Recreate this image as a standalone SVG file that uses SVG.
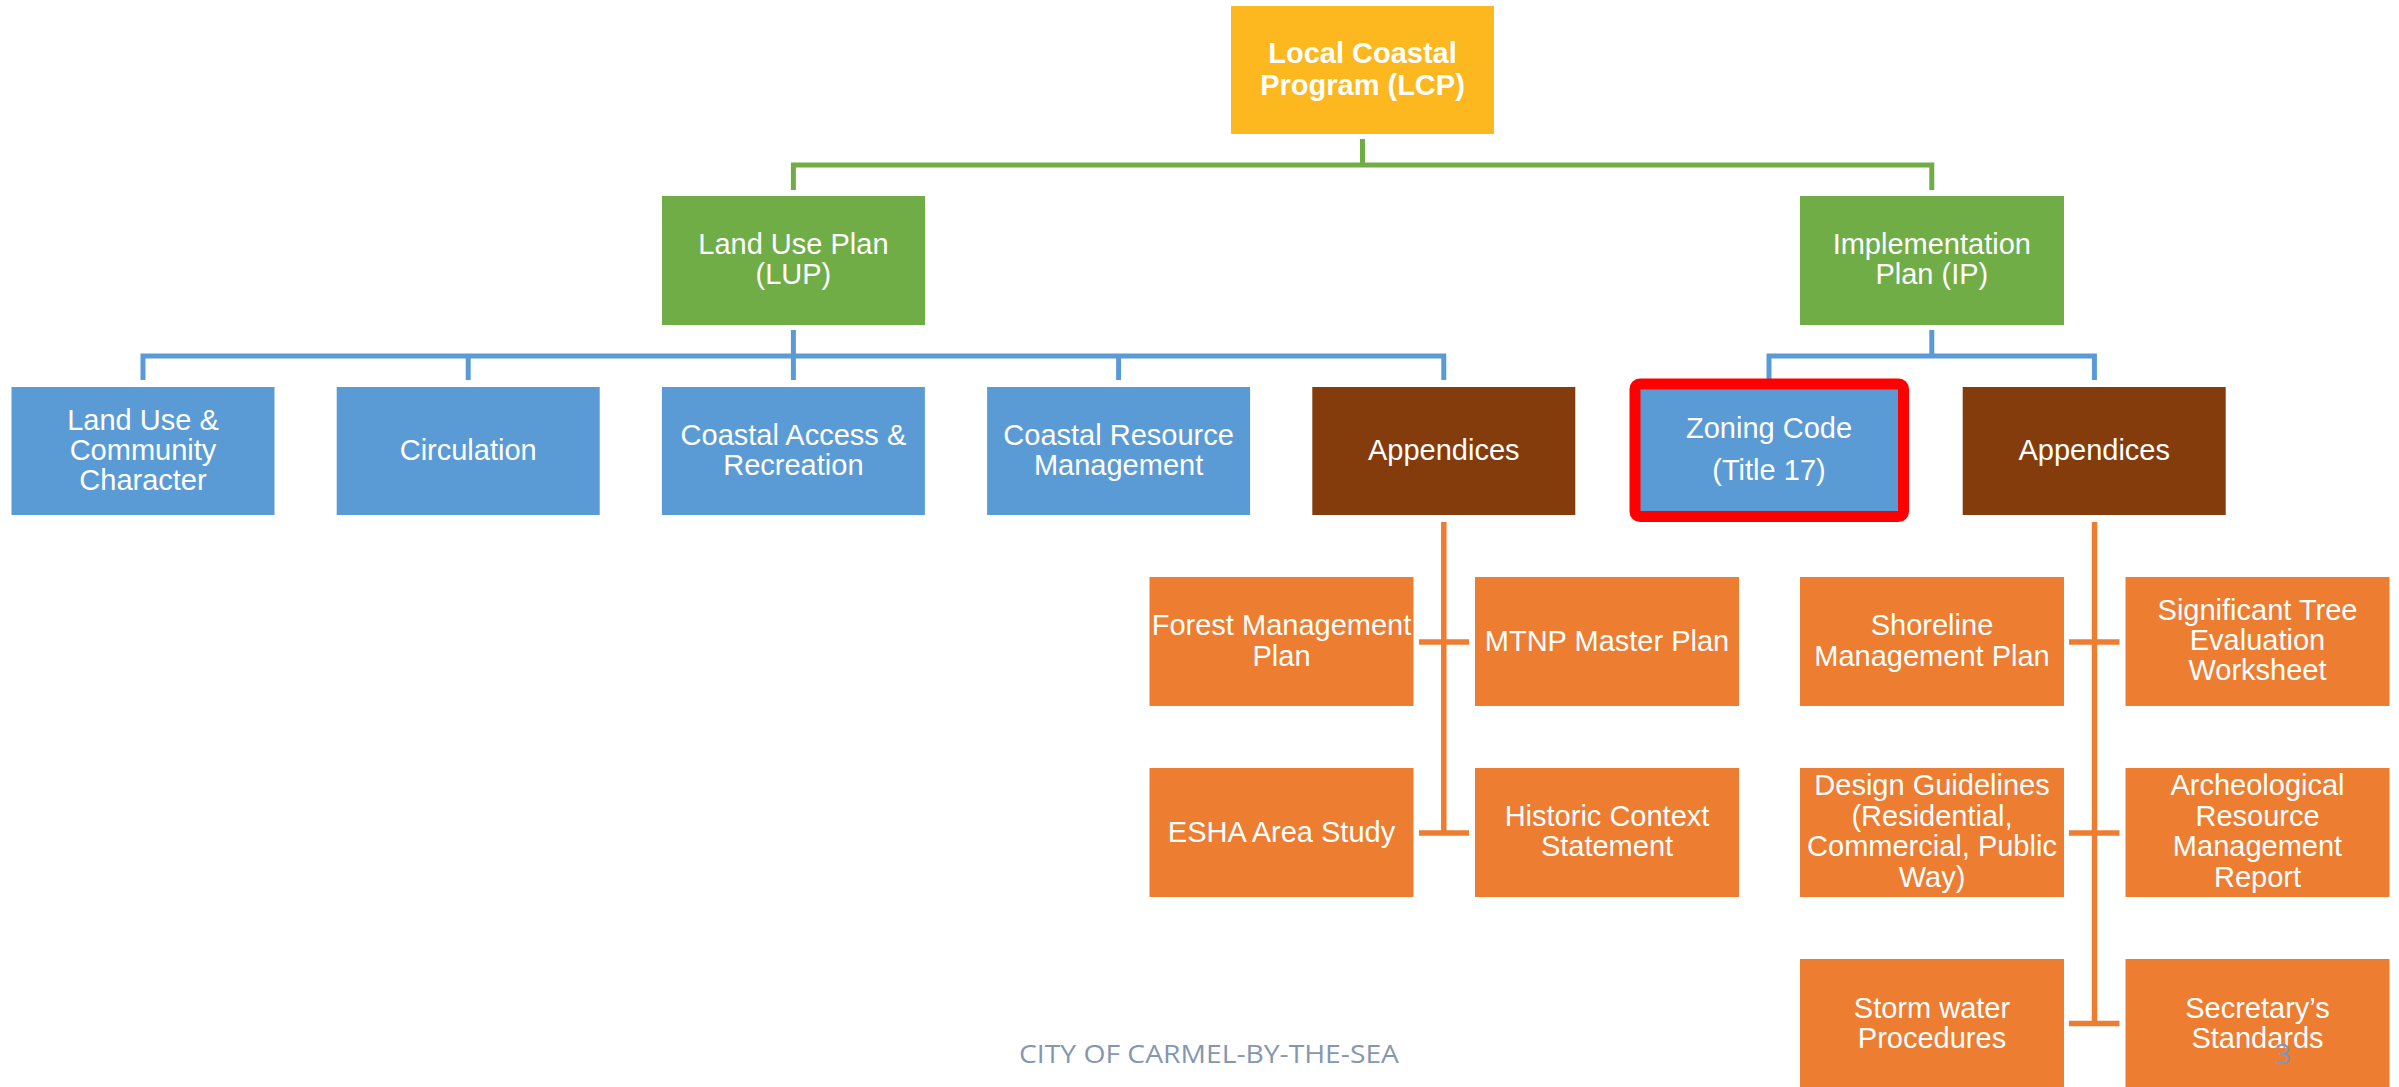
<svg xmlns="http://www.w3.org/2000/svg" width="2399" height="1087" viewBox="0 0 2399 1087">
<style>
  .t { font-family: "Liberation Sans", Arial, sans-serif; font-size: 29px; fill: #ffffff; text-anchor: middle; }
  .b { font-weight: bold; }
  .gold { fill: #FDB81F; }
  .green { fill: #70AD47; }
  .blue { fill: #5B9BD5; }
  .brown { fill: #843C0C; }
  .orange { fill: #ED7D31; }
  .cg { fill: none; stroke: #70AD47; stroke-width: 5; }
  .cb { fill: none; stroke: #5B9BD5; stroke-width: 5; }
  .co { fill: none; stroke: #ED7D31; stroke-width: 5.5; }
  .foot { font-family: "Open Sans", "Liberation Sans", sans-serif; fill: #8497B0; }
</style>
<rect width="2399" height="1087" fill="#ffffff"/>

<g id="connectors">
  <path class="cg" d="M1362.5,139 V165"/>
  <path class="cg" d="M793.4,190 V165 H1931.8 V190"/>
  <path class="cb" d="M793.4,330 V356"/>
  <path class="cb" d="M143,380 V356 H1443.8 V380"/>
  <path class="cb" d="M468.2,356 V380 M793.4,356 V380 M1118.6,356 V380"/>
  <path class="cb" d="M1931.8,330 V356"/>
  <path class="cb" d="M1769,380 V356 H2094.4 V380"/>
  <path class="co" d="M1443.8,522 V833"/>
  <path class="co" d="M1419,642 H1469 M1419,833 H1469"/>
  <path class="co" d="M2094.5,522 V1023.5"/>
  <path class="co" d="M2069,642 H2119.5 M2069,833 H2119.5 M2069,1023.5 H2119.5"/>
</g>

<g id="lcp">
  <rect class="gold" x="1231" y="6" width="263" height="128"/>
  <text class="t b" x="1362.5" y="63">Local Coastal</text>
  <text class="t b" x="1362.5" y="95">Program (LCP)</text>
</g>

<g id="lup">
  <rect class="green" x="662" y="196" width="263" height="129"/>
  <text class="t" x="793.4" y="253.5">Land Use Plan</text>
  <text class="t" x="793.4" y="283.5">(LUP)</text>
</g>

<g id="ip">
  <rect class="green" x="1800" y="196" width="264" height="129"/>
  <text class="t" x="1931.8" y="253.5">Implementation</text>
  <text class="t" x="1931.8" y="283.5">Plan (IP)</text>
</g>

<g id="land-use-community">
  <rect class="blue" x="11.5" y="387" width="263" height="128"/>
  <text class="t" x="143" y="430">Land Use &amp;</text>
  <text class="t" x="143" y="460">Community</text>
  <text class="t" x="143" y="490">Character</text>
</g>

<g id="circulation">
  <rect class="blue" x="336.7" y="387" width="263" height="128"/>
  <text class="t" x="468.2" y="460">Circulation</text>
</g>

<g id="coastal-access">
  <rect class="blue" x="661.9" y="387" width="263" height="128"/>
  <text class="t" x="793.4" y="445">Coastal Access &amp;</text>
  <text class="t" x="793.4" y="475">Recreation</text>
</g>

<g id="coastal-resource">
  <rect class="blue" x="987.1" y="387" width="263" height="128"/>
  <text class="t" x="1118.6" y="445">Coastal Resource</text>
  <text class="t" x="1118.6" y="475">Management</text>
</g>

<g id="lup-appendices">
  <rect class="brown" x="1312.3" y="387" width="263" height="128"/>
  <text class="t" x="1443.8" y="460">Appendices</text>
</g>

<g id="zoning-code">
  <rect class="blue" x="1637.5" y="387" width="263" height="128"/>
  <rect x="1635" y="384" width="268.5" height="132.5" rx="5" fill="none" stroke="#FF0000" stroke-width="11"/>
  <text class="t" x="1769" y="438">Zoning Code</text>
  <text class="t" x="1769" y="480">(Title 17)</text>
</g>

<g id="ip-appendices">
  <rect class="brown" x="1962.7" y="387" width="263" height="128"/>
  <text class="t" x="2094.2" y="460">Appendices</text>
</g>

<g id="forest-management">
  <rect class="orange" x="1149.5" y="577" width="264" height="129"/>
  <text class="t" x="1281.5" y="635" font-size="28">Forest Management</text>
  <text class="t" x="1281.5" y="665.5">Plan</text>
</g>

<g id="mtnp">
  <rect class="orange" x="1475" y="577" width="264" height="129"/>
  <text class="t" x="1607" y="650.5">MTNP Master Plan</text>
</g>

<g id="esha">
  <rect class="orange" x="1149.5" y="768" width="264" height="129"/>
  <text class="t" x="1281.5" y="841.5">ESHA Area Study</text>
</g>

<g id="historic-context">
  <rect class="orange" x="1475" y="768" width="264" height="129"/>
  <text class="t" x="1607" y="826">Historic Context</text>
  <text class="t" x="1607" y="856">Statement</text>
</g>

<g id="shoreline">
  <rect class="orange" x="1800" y="577" width="264" height="129"/>
  <text class="t" x="1932" y="635">Shoreline</text>
  <text class="t" x="1932" y="665.5">Management Plan</text>
</g>

<g id="significant-tree">
  <rect class="orange" x="2125.5" y="577" width="264" height="129"/>
  <text class="t" x="2257.5" y="620">Significant Tree</text>
  <text class="t" x="2257.5" y="650">Evaluation</text>
  <text class="t" x="2257.5" y="680">Worksheet</text>
</g>

<g id="design-guidelines">
  <rect class="orange" x="1800" y="768" width="264" height="129"/>
  <text class="t" x="1932" y="795">Design Guidelines</text>
  <text class="t" x="1932" y="825.5">(Residential,</text>
  <text class="t" x="1932" y="856">Commercial, Public</text>
  <text class="t" x="1932" y="886.5">Way)</text>
</g>

<g id="archeological">
  <rect class="orange" x="2125.5" y="768" width="264" height="129"/>
  <text class="t" x="2257.5" y="795">Archeological</text>
  <text class="t" x="2257.5" y="825.5">Resource</text>
  <text class="t" x="2257.5" y="856">Management</text>
  <text class="t" x="2257.5" y="886.5">Report</text>
</g>

<g id="storm-water">
  <rect class="orange" x="1800" y="959" width="264" height="129"/>
  <text class="t" x="1932" y="1017.5">Storm water</text>
  <text class="t" x="1932" y="1047.5">Procedures</text>
</g>

<g id="secretarys-standards">
  <rect class="orange" x="2125.5" y="959" width="264" height="129"/>
  <text class="t" x="2257.5" y="1017.5">Secretary’s</text>
  <text class="t" x="2257.5" y="1047.5">Standards</text>
</g>

<text class="foot" x="1019" y="1063" font-size="26" textLength="380" lengthAdjust="spacingAndGlyphs">CITY OF CARMEL-BY-THE-SEA</text>
<text class="foot" x="2283" y="1064" font-size="28" text-anchor="middle">3</text>
</svg>
